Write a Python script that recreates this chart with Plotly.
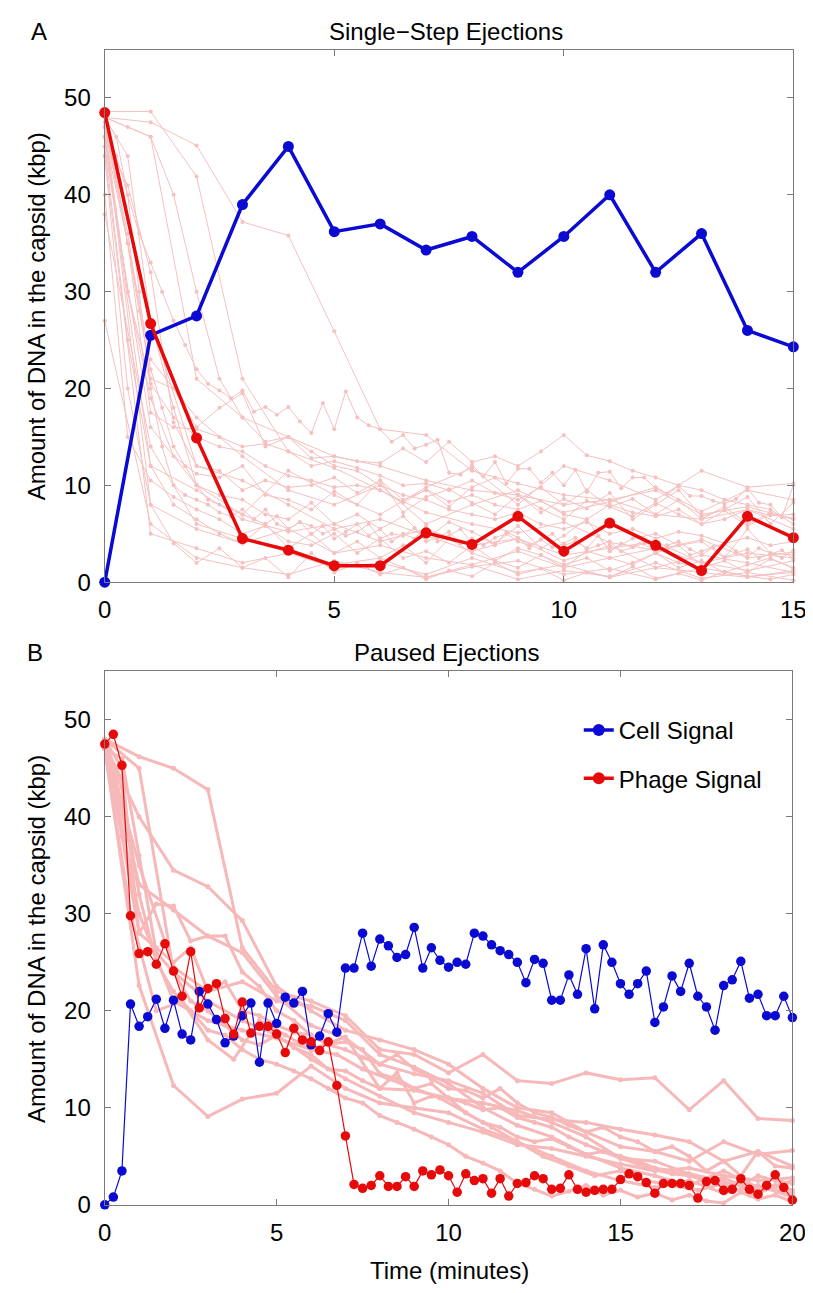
import plotly.graph_objects as go

W, H = 813, 1293

# ---------------- Panel A: single-step ejections ----------------
TIME_A = list(range(16))
CELL_A = [0.0, 25.5, 27.5, 39.0, 45.0, 36.2, 37.0, 34.3, 35.7, 32.0, 35.7, 40.0, 32.0, 36.0, 26.0, 24.3]
PHAGE_A = [48.5, 26.7, 14.9, 4.5, 3.3, 1.7, 1.7, 5.1, 3.9, 6.8, 3.2, 6.1, 3.8, 1.2, 6.8, 4.6]

# individual (pale) traces of panel A: sampling step and values
PINK_A_DT = [1, 1, 0.25, 0.5, 1, 0.5, 1, 0.25, 0.5, 1, 0.5, 1, 0.5, 1, 0.5, 1, 0.25, 0.5, 1, 0.5, 1, 0.5, 1, 0.5]
PINK_A_VALUES = [
    [48.0, 47.5, 45.1, 37.2, 35.8, 25.9, 15.8, 15.2, 11.5, 10.2, 9.0, 8.5, 9.5, 7.0, 7.8, 6.5],
    [48.6, 48.6, 41.9, 21.0, 13.5, 11.8, 9.5, 7.2, 6.0, 5.1, 6.2, 4.1, 3.3, 4.4, 2.5, 3.1],
    [47, 44, 40, 36, 33, 30, 27, 24.5, 22, 20.5, 19.8, 19.0, 19.8, 17.6, 18.1, 17.3, 18.1, 16.6, 15.4, 18.5,
     15.8, 19.7, 17.0, 16.2, 15.8, 14.5, 15.2, 13.8, 14.2, 14.7, 11.3, 11.1, 12.1, 10.9, 12.4, 10.2, 11.7, 11.7,
     10.3, 11.3, 10.0, 11.6, 9.3, 11.3, 11.4, 9.7, 10.8, 10.8, 9.7, 9.1, 9.9, 8.9, 8.9, 8.4, 8.1, 8.6, 9.7, 8.2,
     8.0, 6.7, 10.0],
    [46, 30, 20.5, 17, 15, 14, 13.5, 12, 11, 10.5, 9.8, 10, 9.5, 8.2, 9.6, 8.3, 9.0, 8.0, 7.5, 8.4, 7.0, 6.5,
     8.0, 7.2, 6.8, 7.5, 6.0, 6.5, 7.5, 6.9, 7.0],
    [47, 23, 17, 13, 9.5, 8, 10, 6, 8, 9.5, 7.2, 8.3, 9.8, 7.3, 9.5, 8.5],
    [45, 25, 12, 8, 6.5, 5, 4, 6, 3.5, 5, 3, 4.2, 2.5, 3.8, 2, 4.5, 3, 2.2, 3.5, 2.8, 1.5, 3.2, 2.5, 1.8, 3.0,
     2.0, 1.5, 2.2, 1.0, 2.4, 1.5],
    [44, 5, 3.5, 2.0, 3.0, 1.5, 2.0, 0.8, 2.5, 1.0, 1.8, 0.5, 1.5, 1.0, 0.5, 1.2],
    [47, 42, 35, 28, 22, 18, 14, 12, 10, 8.5, 8, 7.5, 7, 6.5, 7.5, 6, 5.5, 6.2, 5, 5.8, 4.5, 5.2, 6, 4.8, 5.5,
     4.2, 5, 4.5, 5.8, 4.2, 4.8, 5.5, 4, 4.5, 3.8, 5.2, 4.6, 3.5, 4.4, 5.0, 3.8, 4.2, 3.5, 4.8, 3.2, 4.0, 3.6,
     4.4, 3.0, 3.8, 4.2, 3.4, 2.8, 3.6, 4.0, 3.2, 2.6, 3.5, 3.0, 2.5, 3.3],
    [47, 36, 21, 20, 16, 18, 19.5, 14, 15, 12.8, 13, 12.5, 12.3, 13.8, 12.4, 14.5, 12.4, 13, 12, 13.5, 15.2,
     13.1, 12.5, 11.5, 10.8, 10, 9.5, 8.5, 8, 7.5, 6],
    [46, 12, 9.5, 6.5, 5.2, 6.0, 4.2, 5.5, 3.8, 4.5, 2.8, 3.5, 4.2, 2.0, 3.0, 2.5],
    [48, 44, 27, 18, 10, 9, 8.5, 7, 6.5, 8.2, 6, 7, 5.5, 6.8, 4.5, 6.2, 5.2, 4, 5.8, 3.5, 4.8, 6.5, 3.2, 4.5,
     5, 3.8, 4.2, 2.5, 5.5, 3, 2.8],
    [47.5, 27, 12, 10.5, 8, 5.5, 6.5, 4.8, 3.2, 4.5, 2.2, 3.8, 1.5, 2.8, 2.0, 1.0],
    [44, 20, 8, 4, 2, 3.5, 1.5, 2.5, 0.5, 3, 1, 2, 0.8, 1.5, 0.3, 1.2, 0.6, 2.0, 0.8, 1.4, 0.2, 1.0, 0.5, 1.6,
     0.4, 0.9, 0.2, 1.1, 0.6, 0.3, 0.8],
    [45, 16, 10, 7, 11.5, 9, 7, 9.8, 11.8, 8, 12, 10.5, 8.5, 11.5, 9.8, 10.2],
    [40, 15, 10.5, 8.8, 7.5, 6.5, 5, 5.8, 4.2, 3.8, 5, 3, 4.5, 2.5, 3.2, 2, 3.8, 2.2, 1.5, 2.8, 1.8, 2.5, 1.2,
     2, 3, 1.5, 2.2, 1, 1.8, 2.5, 1.4],
    [27, 6, 2.5, 1.5, 0.8, 2.2, 1.0, 0.5, 1.8, 0.3, 1.2, 0.6, 2.0, 0.4, 1.0, 0.2],
    [48, 46, 40, 30, 20, 14, 10, 9, 8.5, 8, 7.2, 6.8, 7.5, 6.5, 6, 6.8, 5.5, 6.2, 5.8, 5, 5.5, 4.8, 5.2, 6,
     4.5, 5, 4.8, 5.6, 4.2, 4.6, 5.2, 4, 4.5, 3.8, 4.6, 5.0, 4.2, 3.8, 4.4, 3.6, 4.0, 4.6, 3.4, 3.8, 4.2, 3.2,
     3.6, 4.0, 3.0, 3.4, 3.8, 2.8, 3.2, 3.6, 2.6, 3.0, 3.4, 2.5, 2.9, 3.3, 2.4],
    [48, 47, 46, 40, 30, 21, 17, 14.5, 15, 13.5, 12, 11.5, 10, 9, 8.5, 7.5, 7, 6.5, 7.2, 6, 5.5, 6.2, 5, 5.5,
     4.5, 5.2, 4.8, 4, 4.6, 3.8, 4.2],
    [48, 46, 21, 17, 15, 13, 12, 10.5, 9.5, 9, 8, 8.5, 7, 6.5, 7.5, 5.5],
    [46, 35, 17.5, 16, 15.8, 15, 14, 14.3, 13.5, 12, 12.5, 11.8, 11, 10, 10.2, 9.5, 10.5, 9.2, 8.5, 9.8, 8.0,
     9.5, 7.8, 8.6, 7, 8.5, 6.5, 7.8, 6, 7.2, 6.5],
    [47, 8, 5.5, 4.0, 5.5, 3.0, 3.8, 2.5, 1.8, 3.2, 1.5, 2.5, 3.5, 2.0, 1.2, 2.2],
    [46, 41, 32, 16.5, 12, 11.5, 9.5, 10.5, 9.8, 10, 10.8, 9.2, 10.5, 8.5, 9.5, 7.8, 9.8, 10.8, 9, 7.2, 8.6,
     7.6, 9.2, 6.5, 8.0, 9.5, 6.8, 7.5, 8.8, 6.0, 8.2],
    [38, 14, 6, 4.5, 3.5, 1.8, 2.5, 0.5, 1.6, 2.2, 0.8, 1.4, 0.3, 1.5, 0.6, 1.0],
    [47, 30, 19, 13, 11.2, 10.8, 12, 9, 8.5, 7.5, 9.4, 8, 10.5, 7.2, 8.8, 9.6, 8.2, 7, 9, 7.6, 6.5, 8.4, 7.8,
     6.8, 8.2, 7, 6, 7.4, 5.8, 7.0, 6.6],
]

# ---------------- Panel B: paused ejections ----------------
TIME_B = [i * 0.25 for i in range(81)]
CELL_B = [0.0, 0.8, 3.5, 20.7, 18.4, 19.4, 21.2, 18.2, 21.1, 17.6, 17.0, 22.0, 20.7, 19.1, 16.7, 17.4,
          19.5, 20.8, 14.7, 20.8, 18.7, 21.4, 20.8, 22.0, 16.5, 17.4, 19.7, 17.8, 24.4, 24.4, 28.0, 24.6,
          27.4, 26.7, 25.5, 25.8, 28.6, 24.4, 26.5, 25.2, 24.5, 25.0, 24.8, 28.0, 27.7, 26.8, 26.2, 25.8,
          25.0, 22.9, 25.3, 24.9, 21.1, 21.1, 23.7, 21.7, 26.4, 20.2, 26.8, 25.0, 22.8, 21.7, 22.8, 24.1,
          18.8, 20.4, 23.6, 22.0, 24.9, 21.5, 20.4, 18.0, 22.6, 23.2, 25.1, 21.3, 21.7, 19.5, 19.5, 21.5, 19.3]
PHAGE_B = [47.5, 48.5, 45.3, 29.8, 25.9, 26.1, 24.8, 26.9, 24.1, 21.5, 26.1, 20.3, 22.3, 22.8, 19.2, 17.6,
           20.9, 17.7, 18.4, 18.4, 17.6, 15.7, 18.2, 17.0, 16.8, 15.9, 16.8, 12.3, 7.1, 2.1, 1.7, 2.0,
           3.0, 1.9, 1.9, 2.9, 1.9, 3.5, 3.1, 3.6, 3.0, 1.3, 3.2, 2.5, 2.7, 1.2, 2.7, 0.9,
           2.2, 2.3, 3.0, 2.7, 1.6, 1.7, 3.1, 1.6, 1.3, 1.5, 1.6, 1.6, 2.6, 3.2, 2.9, 2.3,
           1.2, 2.2, 2.2, 2.2, 2.0, 0.7, 2.4, 2.5, 1.5, 1.6, 2.7, 1.6, 1.1, 2.0, 3.1, 1.8, 0.5]

PINK_B_DT = [1, 1, 0.5, 1, 0.5, 1, 0.75, 1, 0.5, 1, 1, 0.5]
PINK_B_VALUES = [
    [48, 46.2, 45, 42.8, 26.5, 22, 21, 19.5, 16, 15.5, 13.6, 15.5, 12.8, 12.5, 13.6, 12.9, 13.1, 9.8, 12.8, 8.9, 8.7],
    [47.5, 40, 34.5, 32.8, 29.3, 22.5, 20, 18, 17, 16, 14.5, 12, 10, 9.5, 7.5, 6, 5.5, 4.5, 6.5, 5.2, 5.6],
    [47, 38, 28, 26.5, 25, 26.5, 22, 23, 20, 19.5, 18.5, 17.8, 17.5, 16.5, 16, 15.2, 14.5, 15.5, 14, 13, 12,
     11.8, 11, 12, 10.5, 9.5, 9, 8.2, 7.5, 8, 7, 6.5, 5.5, 6, 5, 3.5, 4.5, 3, 5.5, 4, 3.8],
    [48, 33, 30.4, 27.7, 26, 21.5, 18.5, 17.2, 14.5, 13.5, 12.8, 11.5, 9.2, 8.8, 8.5, 7.8, 7.2, 6.5, 4.5, 5.5, 4.0],
    [48, 45, 28, 31, 30.8, 27.2, 27.7, 27.7, 24, 22.5, 20, 19, 17.5, 16.5, 16.8, 16, 13.5, 13, 12, 12.5, 11,
     10.5, 9.8, 10, 9, 8.5, 8, 7, 6.2, 5.5, 5, 4.5, 3.8, 3.5, 3, 2.5, 2.8, 2, 3, 2.5, 2.2],
    [47, 22.6, 12.3, 9.1, 10.9, 11.5, 14.3, 12, 10.5, 10, 9.5, 7.8, 6.5, 5, 3.5, 2.5, 1.8, 2.5, 1.2, 2.0, 0.8],
    [47, 30, 20, 21, 17, 15, 19, 17.5, 16, 15.5, 14, 13, 12, 11, 9.5, 8, 6.5, 5, 4, 3, 3.5, 2.5, 2.0, 1.5,
     2.2, 1.0, 1.8],
    [48, 30, 21, 19, 18, 17.2, 16, 17.3, 12, 11.8, 11, 10.5, 9.7, 8.5, 7, 4.8, 4.5, 3.2, 2.4, 1.5, 2.5],
    [47, 46, 36, 26, 24, 21, 20, 18.5, 17, 16.5, 17.5, 16.2, 15.5, 14, 13.8, 12.8, 12, 13.6, 10.5, 11.2, 11,
     9.5, 8.5, 8.0, 7, 6.5, 6.8, 6, 5.2, 5.5, 4.8, 4.2, 3.6, 3.2, 3, 2.6, 2, 2.4, 1.8, 2.0, 1.5],
    [48, 45, 24, 21, 19, 17.5, 15, 13, 11.2, 9.5, 8.5, 7.5, 6.2, 5.8, 5, 4.2, 3.5, 3.8, 3.0, 2.5, 2.8],
    [48, 35, 24.5, 22, 23, 21, 20.5, 19, 15.5, 14.2, 12.5, 10, 8.2, 7.0, 5.2, 3.8, 3.0, 2.0, 3.5, 1.8, 1.2],
    [47, 43, 32, 25, 22, 20, 18, 17.5, 16, 15, 14.5, 13.8, 13, 12, 11, 10.5, 9.2, 8.5, 7.8, 7.0, 6.2, 5.0,
     4.3, 3.5, 2.2, 1.6, 0.9, 1.4, 2.0, 1.0, 1.5, 0.8, 1.2, 0.5, 1.0, 0.4, 0.2, 1.3, 0.6, 1.0, 0.3],
]

TITLE_A = "Single\u2212Step Ejections"
TITLE_B = "Paused Ejections"
Y_TITLE = "Amount of DNA in the capsid (kbp)"
X_TITLE = "Time (minutes)"
LEGEND_NAMES = ["Cell Signal", "Phage Signal"]

BLUE = "#0a0ad2"
RED = "#e60a0a"
PINK_A = "#f5c0c0"
PINK_B = "#f6b8b8"
FONT = "Liberation Sans, Arial, Helvetica, sans-serif"
AX = "#7a7a7a"
FS = 24

fig = go.Figure()

for dt, vals in zip(PINK_A_DT, PINK_A_VALUES):
    fig.add_trace(go.Scatter(x=[dt * i for i in range(len(vals))], y=vals, mode="lines+markers",
                             line=dict(color=PINK_A, width=1), marker=dict(color=PINK_A, size=4),
                             showlegend=False, hoverinfo="skip", xaxis="x", yaxis="y", cliponaxis=False))
fig.add_trace(go.Scatter(x=TIME_A, y=CELL_A, mode="lines+markers", line=dict(color=BLUE, width=3.5),
                         marker=dict(color=BLUE, size=11), showlegend=False, xaxis="x", yaxis="y",
                         cliponaxis=False))
fig.add_trace(go.Scatter(x=TIME_A, y=PHAGE_A, mode="lines+markers", line=dict(color=RED, width=3.5),
                         marker=dict(color=RED, size=11), showlegend=False, xaxis="x", yaxis="y",
                         cliponaxis=False))

for dt, vals in zip(PINK_B_DT, PINK_B_VALUES):
    fig.add_trace(go.Scatter(x=[dt * i for i in range(len(vals))], y=vals, mode="lines+markers",
                             line=dict(color=PINK_B, width=3), marker=dict(color=PINK_B, size=5),
                             showlegend=False, hoverinfo="skip", xaxis="x2", yaxis="y2", cliponaxis=False))
fig.add_trace(go.Scatter(x=TIME_B, y=CELL_B, mode="lines+markers", line=dict(color=BLUE, width=1.2),
                         marker=dict(color=BLUE, size=9.5), showlegend=False, xaxis="x2", yaxis="y2",
                         cliponaxis=False))
fig.add_trace(go.Scatter(x=TIME_B, y=PHAGE_B, mode="lines+markers", line=dict(color=RED, width=1.2),
                         marker=dict(color=RED, size=9.5), showlegend=False, xaxis="x2", yaxis="y2",
                         cliponaxis=False))
# legend entries (thick line + marker as in the reference key)
for name, col, grp in zip(LEGEND_NAMES, [BLUE, RED], ["g1", "g2"]):
    fig.add_trace(go.Scatter(x=[None], y=[None], mode="lines+markers", name=name,
                             line=dict(color=col, width=3.5), marker=dict(color=col, size=12),
                             legendgroup=grp, xaxis="x2", yaxis="y2"))

def px_x(p):
    return p / W

def px_y(p):
    return 1 - p / H

axis_common = dict(showline=True, linecolor=AX, linewidth=1.3, mirror="ticks", ticks="inside",
                   ticklen=6, tickcolor=AX, tickwidth=1.3, showgrid=False, zeroline=False,
                   tickfont=dict(family=FONT, size=FS, color="black"))

fig.update_layout(
    width=W, height=H, margin=dict(l=0, r=0, t=0, b=0),
    paper_bgcolor="white", plot_bgcolor="white",
    xaxis=dict(domain=[px_x(92), px_x(798)], range=[0, 15], tickvals=[0, 5, 10, 15],
               anchor="y", ticklabelstandoff=6, **axis_common),
    yaxis=dict(domain=[px_y(580), px_y(42)], range=[0, 55], tickvals=[0, 10, 20, 30, 40, 50],
               anchor="x", ticklabelstandoff=8, **axis_common),
    xaxis2=dict(domain=[px_x(92), px_x(797)], range=[0, 20], tickvals=[0, 5, 10, 15, 20],
                anchor="y2", ticklabelstandoff=6, **axis_common),
    yaxis2=dict(domain=[px_y(1209), px_y(670)], range=[0, 55], tickvals=[0, 10, 20, 30, 40, 50],
                anchor="x2", ticklabelstandoff=8, **axis_common),
    legend=dict(x=px_x(578), y=px_y(707), xanchor="left", yanchor="top", bgcolor="rgba(0,0,0,0)",
                font=dict(family=FONT, size=FS, color="black"), tracegroupgap=14, traceorder="grouped"),
    showlegend=True,
)

ann = [
    dict(text=TITLE_A, x=px_x(442), y=px_y(24)),
    dict(text=TITLE_B, x=px_x(442), y=px_y(651)),
    dict(text="A", x=px_x(25), y=px_y(24)),
    dict(text="B", x=px_x(21), y=px_y(651)),
    dict(text=X_TITLE, x=px_x(445), y=px_y(1275)),
    dict(text=Y_TITLE, x=px_x(22), y=px_y(311), textangle=-90),
    dict(text=Y_TITLE, x=px_x(22), y=px_y(940), textangle=-90),
]
for a in ann:
    fig.add_annotation(xref="paper", yref="paper", showarrow=False, xanchor="center", yanchor="middle",
                       font=dict(family=FONT, size=FS, color="black"), **a)

fig.write_html("out.html")
